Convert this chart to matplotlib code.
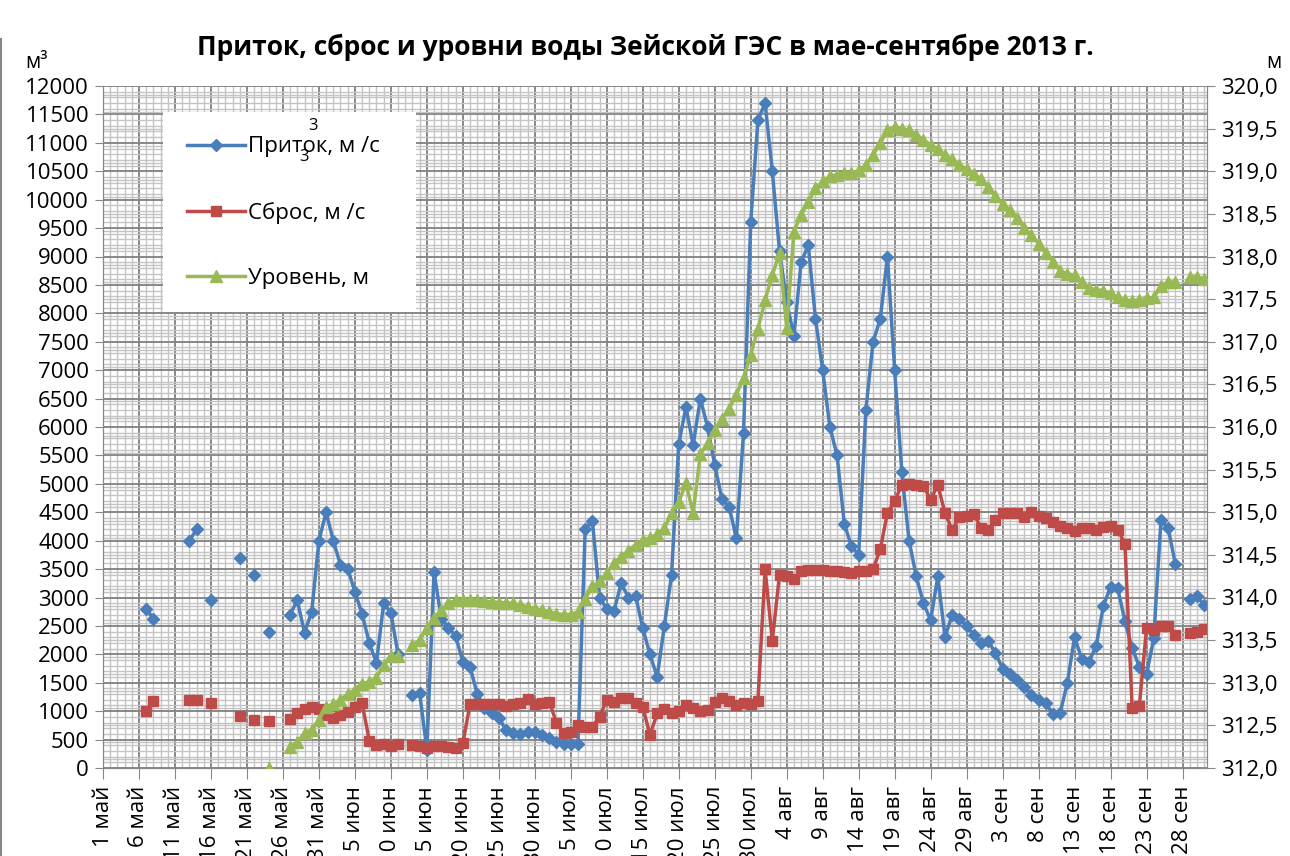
import datetime as dt
import numpy as np
import matplotlib
matplotlib.use("Agg")
import matplotlib.pyplot as plt
from matplotlib.ticker import MultipleLocator, FixedLocator, FuncFormatter
from matplotlib.patches import Rectangle
from matplotlib.lines import Line2D

plt.rcParams['font.family'] = ['Open Sans', 'DejaVu Sans']

N = None
# день 0 = 1 мая 2013, последний день = 1 октября
# приток, м3/с
inflow_may = [N, N, N, N, N, N, 2800, 2630, N, N, N, N, 4000, 4200, N, 2950, N, N, N, 3700,
              N, 3400, N, 2400, N, N, 2700, 2950, 2380, 2750, 4000]
inflow_jun = [4500, 4000, 3570, 3510, 3100, 2710, 2200, 1850, 2900, 2730,
              2000, N, 1280, 1320, 320, 3450, 2630, 2470, 2320, 1870,
              1780, 1300, 1050, 960, 880, 670, 620, 600, 640, 640]
inflow_jul = [580, 520, 460, 420, 420, 430, 4200, 4350, 3000, 2800,
              2760, 3250, 3000, 3030, 2460, 2000, 1600, 2500, 3400, 5700,
              6350, 5680, 6500, 6000, 5330, 4730, 4600, 4040, 5900, 9600, 11400]
inflow_aug = [11700, 10500, 9100, 8200, 7600, 8900, 9200, 7900, 7000, 6000,
              5500, 4300, 3900, 3750, 6300, 7500, 7900, 9000, 7000, 5200,
              4000, 3370, 2900, 2600, 3370, 2300, 2700, 2630, 2500, 2340, 2200]
inflow_sep = [2240, 2020, 1750, 1650, 1550, 1430, 1290, 1200, 1140, 950,
              970, 1500, 2310, 1910, 1870, 2150, 2850, 3190, 3160, 2580,
              2110, 1780, 1650, 2280, 4360, 4220, 3590, N, 2970, 3030]
inflow_oct = [2860]

# сброс, м3/с
release_may = [N, N, N, N, N, N, 1000, 1180, N, N, N, N, 1200, 1200, N, 1150, N, N, N, 910,
               N, 845, N, 830, N, N, 860, 960, 1030, 1080, 1030]
release_jun = [940, 875, 930, 990, 1080, 1140, 480, 405, 420, 390,
               420, N, 405, 390, 350, 390, 390, 375, 350, 435,
               1125, 1125, 1125, 1125, 1125, 1090, 1125, 1140, 1210, 1125]
release_jul = [1150, 1170, 800, 620, 640, 760, 730, 730, 900, 1200,
               1170, 1240, 1225, 1140, 1080, 580, 960, 1030, 960, 1010,
               1110, 1050, 1010, 1020, 1165, 1240, 1185, 1110, 1145, 1130, 1180]
release_aug = [3500, 2240, 3400, 3380, 3320, 3470, 3485, 3485, 3485, 3470,
               3465, 3455, 3425, 3470, 3470, 3495, 3850, 4490, 4700, 4980,
               5000, 4980, 4960, 4720, 4980, 4480, 4190, 4420, 4430, 4465, 4230]
release_sep = [4190, 4360, 4480, 4480, 4480, 4420, 4510, 4435, 4395, 4335,
               4250, 4220, 4170, 4220, 4220, 4190, 4235, 4260, 4190, 3950,
               1050, 1090, 2460, 2430, 2490, 2500, 2340, N, 2380, 2400]
release_oct = [2440]

# уровень, м
level_may = [N] * 23 + [312.0, N, N, 312.25, 312.30, 312.41, 312.45, 312.56]
level_jun = [312.72, 312.75, 312.80, 312.87, 312.92, 312.99, 313.01, 313.06, 313.21, 313.31,
             313.31, N, 313.44, 313.50, 313.64, 313.76, 313.85, 313.93, 313.97, 313.97,
             313.97, 313.97, 313.96, 313.95, 313.94, 313.94, 313.93, 313.91, 313.89, 313.87]
level_jul = [313.85, 313.83, 313.81, 313.80, 313.80, 313.83, 313.98, 314.13, 314.19, 314.29,
             314.40, 314.48, 314.55, 314.62, 314.67, 314.70, 314.74, 314.81, 314.99, 315.12,
             315.34, 314.99, 315.68, 315.81, 315.96, 316.09, 316.21, 316.38, 316.58, 316.85, 317.15]
level_aug = [317.49, 317.78, 318.04, 317.16, 318.29, 318.49, 318.64, 318.80, 318.88, 318.94,
             318.96, 318.98, 318.98, 319.01, 319.07, 319.19, 319.33, 319.48, 319.52, 319.50,
             319.48, 319.43, 319.37, 319.31, 319.26, 319.19, 319.14, 319.07, 319.03, 318.97, 318.91]
level_sep = [318.81, 318.71, 318.61, 318.54, 318.45, 318.33, 318.25, 318.15, 318.04, 317.94,
             317.83, 317.80, 317.78, 317.70, 317.63, 317.61, 317.60, 317.57, 317.52, 317.49,
             317.48, 317.49, 317.51, 317.52, 317.65, 317.70, 317.70, N, 317.76, 317.76]
level_oct = [317.74]

months = {4: 'апр', 5: 'май', 6: 'июн', 7: 'июл', 8: 'авг', 9: 'сен', 10: 'окт'}
start = dt.date(2013, 5, 1)

inflow = np.array(inflow_may + inflow_jun + inflow_jul + inflow_aug + inflow_sep + inflow_oct, dtype=float)
release = np.array(release_may + release_jun + release_jul + release_aug + release_sep + release_oct, dtype=float)
level = np.array(level_may + level_jun + level_jul + level_aug + level_sep + level_oct, dtype=float)
days = np.arange(len(inflow))

c_blue = '#4A7EBB'
c_red = '#BE4B48'
c_green = '#98B954'
c_grid = '#878787'

fig = plt.figure(figsize=(12.9, 8.56), dpi=100)
ax1 = fig.add_axes([103 / 1290, 1 - 768 / 856, (1207 - 103) / 1290, (768 - 86) / 856])
ax2 = ax1.twinx()

l1, = ax1.plot(days, inflow, color=c_blue, lw=2.5, marker='D', ms=6.5, zorder=3)
l2, = ax1.plot(days, release, color=c_red, lw=2.5, marker='s', ms=6.5, zorder=3)
l3, = ax2.plot(days, level, color=c_green, lw=2.5, marker='^', ms=8, zorder=3)

ax1.set_xlim(0, 153.4)
ax1.set_ylim(0, 12000)
ax2.set_ylim(312, 320)

ax1.xaxis.set_major_locator(FixedLocator(range(0, 151, 5)))
ax1.xaxis.set_minor_locator(FixedLocator(range(0, 154)))


def date_label(v, pos):
    d = start + dt.timedelta(days=int(round(v)))
    return f"{d.day} {months[d.month]}"


ax1.xaxis.set_major_formatter(FuncFormatter(date_label))
ax1.tick_params(axis='x', labelrotation=90)

ax1.yaxis.set_major_locator(MultipleLocator(500))
minor_y = sorted(set(range(0, 12001, 100)) | set(range(0, 12001, 150)))
ax1.yaxis.set_minor_locator(FixedLocator(minor_y))
ax2.yaxis.set_major_locator(MultipleLocator(0.5))
ax2.yaxis.set_major_formatter(FuncFormatter(lambda v, p: f"{v:.1f}".replace('.', ',')))

ax1.set_axisbelow(True)
ax1.grid(which='minor', color='#c4c4c4', lw=1.0)
ax1.grid(which='major', color=c_grid, lw=1.4)

for ax in (ax1, ax2):
    ax.tick_params(which='major', direction='out', length=6, color=c_grid, labelsize=16, pad=4)
    ax.tick_params(which='minor', length=0)
    for s in ax.spines.values():
        s.set_color(c_grid)
ax1.tick_params(axis='x', length=8, pad=5)
ax1.spines['top'].set_visible(False)
ax2.spines['top'].set_visible(False)

# легенда на белой подложке
ax2.add_patch(Rectangle((0.054, 0.669), 0.2295, 0.293, transform=ax2.transAxes,
                        fc='white', ec='none', zorder=4))
leg = ax2.legend([l1, l2, l3], ['Приток, м /с', 'Сброс, м /с', 'Уровень, м'],
                 loc='upper left', bbox_to_anchor=(0.076, 0.926), borderaxespad=0,
                 frameon=False, fontsize=16, labelspacing=2.0, handlelength=2.6,
                 handletextpad=0.15, borderpad=0)
leg.set_zorder(5)

fig.text(313 / 1290, 1 - 126 / 856, '3', fontsize=12, ha='center', va='center')
fig.text(304 / 1290, 1 - 157 / 856, '3', fontsize=12, ha='center', va='center')

fig.text(645 / 1290, 1 - 47 / 856, 'Приток, сброс и уровни воды Зейской ГЭС в мае-сентябре 2013 г.',
         fontsize=19, fontweight='bold', ha='center', va='center')
fig.text(25 / 1290, 1 - 62 / 856, 'м³', fontsize=15, ha='left', va='center')
fig.text(1266 / 1290, 1 - 62 / 856, 'м', fontsize=15, ha='left', va='center')

fig.add_artist(Line2D([0.001, 0.001], [0, 0.955], transform=fig.transFigure, color=c_grid, lw=1.5))

fig.savefig('out.png', dpi=100)
